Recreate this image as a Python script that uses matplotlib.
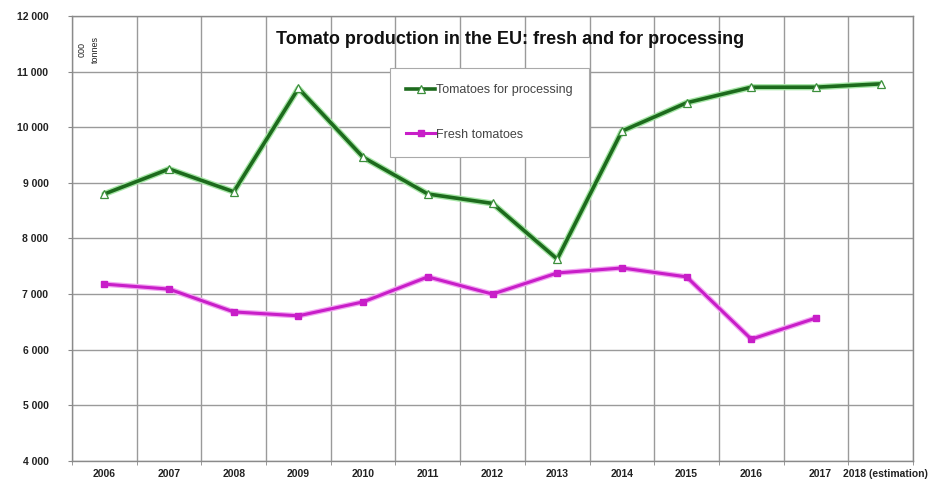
import matplotlib
matplotlib.use('Agg')
import matplotlib.pyplot as plt
import matplotlib.transforms as mtransforms
import numpy as np

plt.rcParams['font.family'] = ['Liberation Sans', 'DejaVu Sans']

# data (000 tonnes)
years = ['2006', '2007', '2008', '2009', '2010', '2011', '2012', '2013',
         '2014', '2015', '2016', '2017', '2018 (estimation)']
processing = [8800, 9250, 8840, 10700, 9460, 8800, 8630, 7630,
              9930, 10440, 10720, 10720, 10780]
fresh = [7180, 7090, 6680, 6610, 6860, 7310, 7000, 7380,
         7470, 7310, 6190, 6570]

y_ticks = [4000, 5000, 6000, 7000, 8000, 9000, 10000, 11000, 12000]

fig = plt.figure(figsize=(9.33, 4.82), dpi=100)
ax = fig.add_axes([0.0772, 0.0436, 0.9014, 0.9232])

x = np.arange(len(years))

# processing line, with a light green halo like the original
ax.plot(x, processing, color='#a6e6a6', lw=4.5, solid_capstyle='round', zorder=3)
ax.plot(x, processing, color='#1d6b1d', lw=2.6, marker='^', markersize=6,
        markerfacecolor='white', markeredgecolor='#3c8f3c', markeredgewidth=0.9,
        zorder=4, label='Tomatoes for processing')

xf = np.arange(len(fresh))
ax.plot(xf, fresh, color='#f2a6f2', lw=4.0, solid_capstyle='round', zorder=3)
ax.plot(xf, fresh, color='#c81ec8', lw=2.2, marker='s', markersize=4,
        markerfacecolor='#c81ec8', markeredgecolor='#c81ec8',
        zorder=4, label='Fresh tomatoes')

ax.set_xlim(-0.5, len(years) - 0.5)
ax.set_ylim(4000, 12000)

ax.set_yticks(y_ticks)
ax.set_yticklabels(['{:,}'.format(v).replace(',', ' ') for v in y_ticks],
                   fontsize=7.5, fontweight='bold', color='#222222')
ax.set_xticks(x)
ax.set_xticklabels(years, fontsize=7.5, fontweight='bold', color='#222222')
ax.set_xticks(np.arange(-0.5, len(years), 1), minor=True)

ax.tick_params(axis='y', length=3, pad=14, color='#888888')
ax.tick_params(axis='x', which='major', length=0, pad=6)
ax.tick_params(axis='x', which='minor', length=3, color='#888888')

# the last two labels sit a bit to the right in the original
xlabels = ax.get_xticklabels()
xlabels[-2].set_transform(xlabels[-2].get_transform() +
                          mtransforms.ScaledTranslation(4 / 100, 0, fig.dpi_scale_trans))
xlabels[-1].set_transform(xlabels[-1].get_transform() +
                          mtransforms.ScaledTranslation(5 / 100, 0, fig.dpi_scale_trans))

ax.grid(True, which='minor', axis='x', color='#9a9a9a', lw=1.0)
ax.grid(True, which='major', axis='y', color='#9a9a9a', lw=1.0)
ax.set_axisbelow(True)
for s in ax.spines.values():
    s.set_color('#8a8a8a')
    s.set_linewidth(1.0)

ax.text(0.521, 0.948, 'Tomato production in the EU: fresh and for processing',
        transform=ax.transAxes, ha='center', va='center',
        fontsize=13, fontweight='bold', color='#111111')
ax.text(0.020, 0.925, '000\ntonnes', transform=ax.transAxes, rotation=90,
        ha='center', va='center', fontsize=6.5, color='#222222', linespacing=1.5)

leg = ax.legend(loc='upper left', bbox_to_anchor=(0.378, 0.883),
                fontsize=9, labelspacing=2.6, handlelength=2.3,
                borderpad=1.3, handletextpad=0.1, borderaxespad=0,
                fancybox=False, framealpha=1, edgecolor='#aaaaaa')
for t in leg.get_texts():
    t.set_color('#444444')
leg.get_frame().set_linewidth(0.8)

fig.savefig('out.png', dpi=100, facecolor='white')
